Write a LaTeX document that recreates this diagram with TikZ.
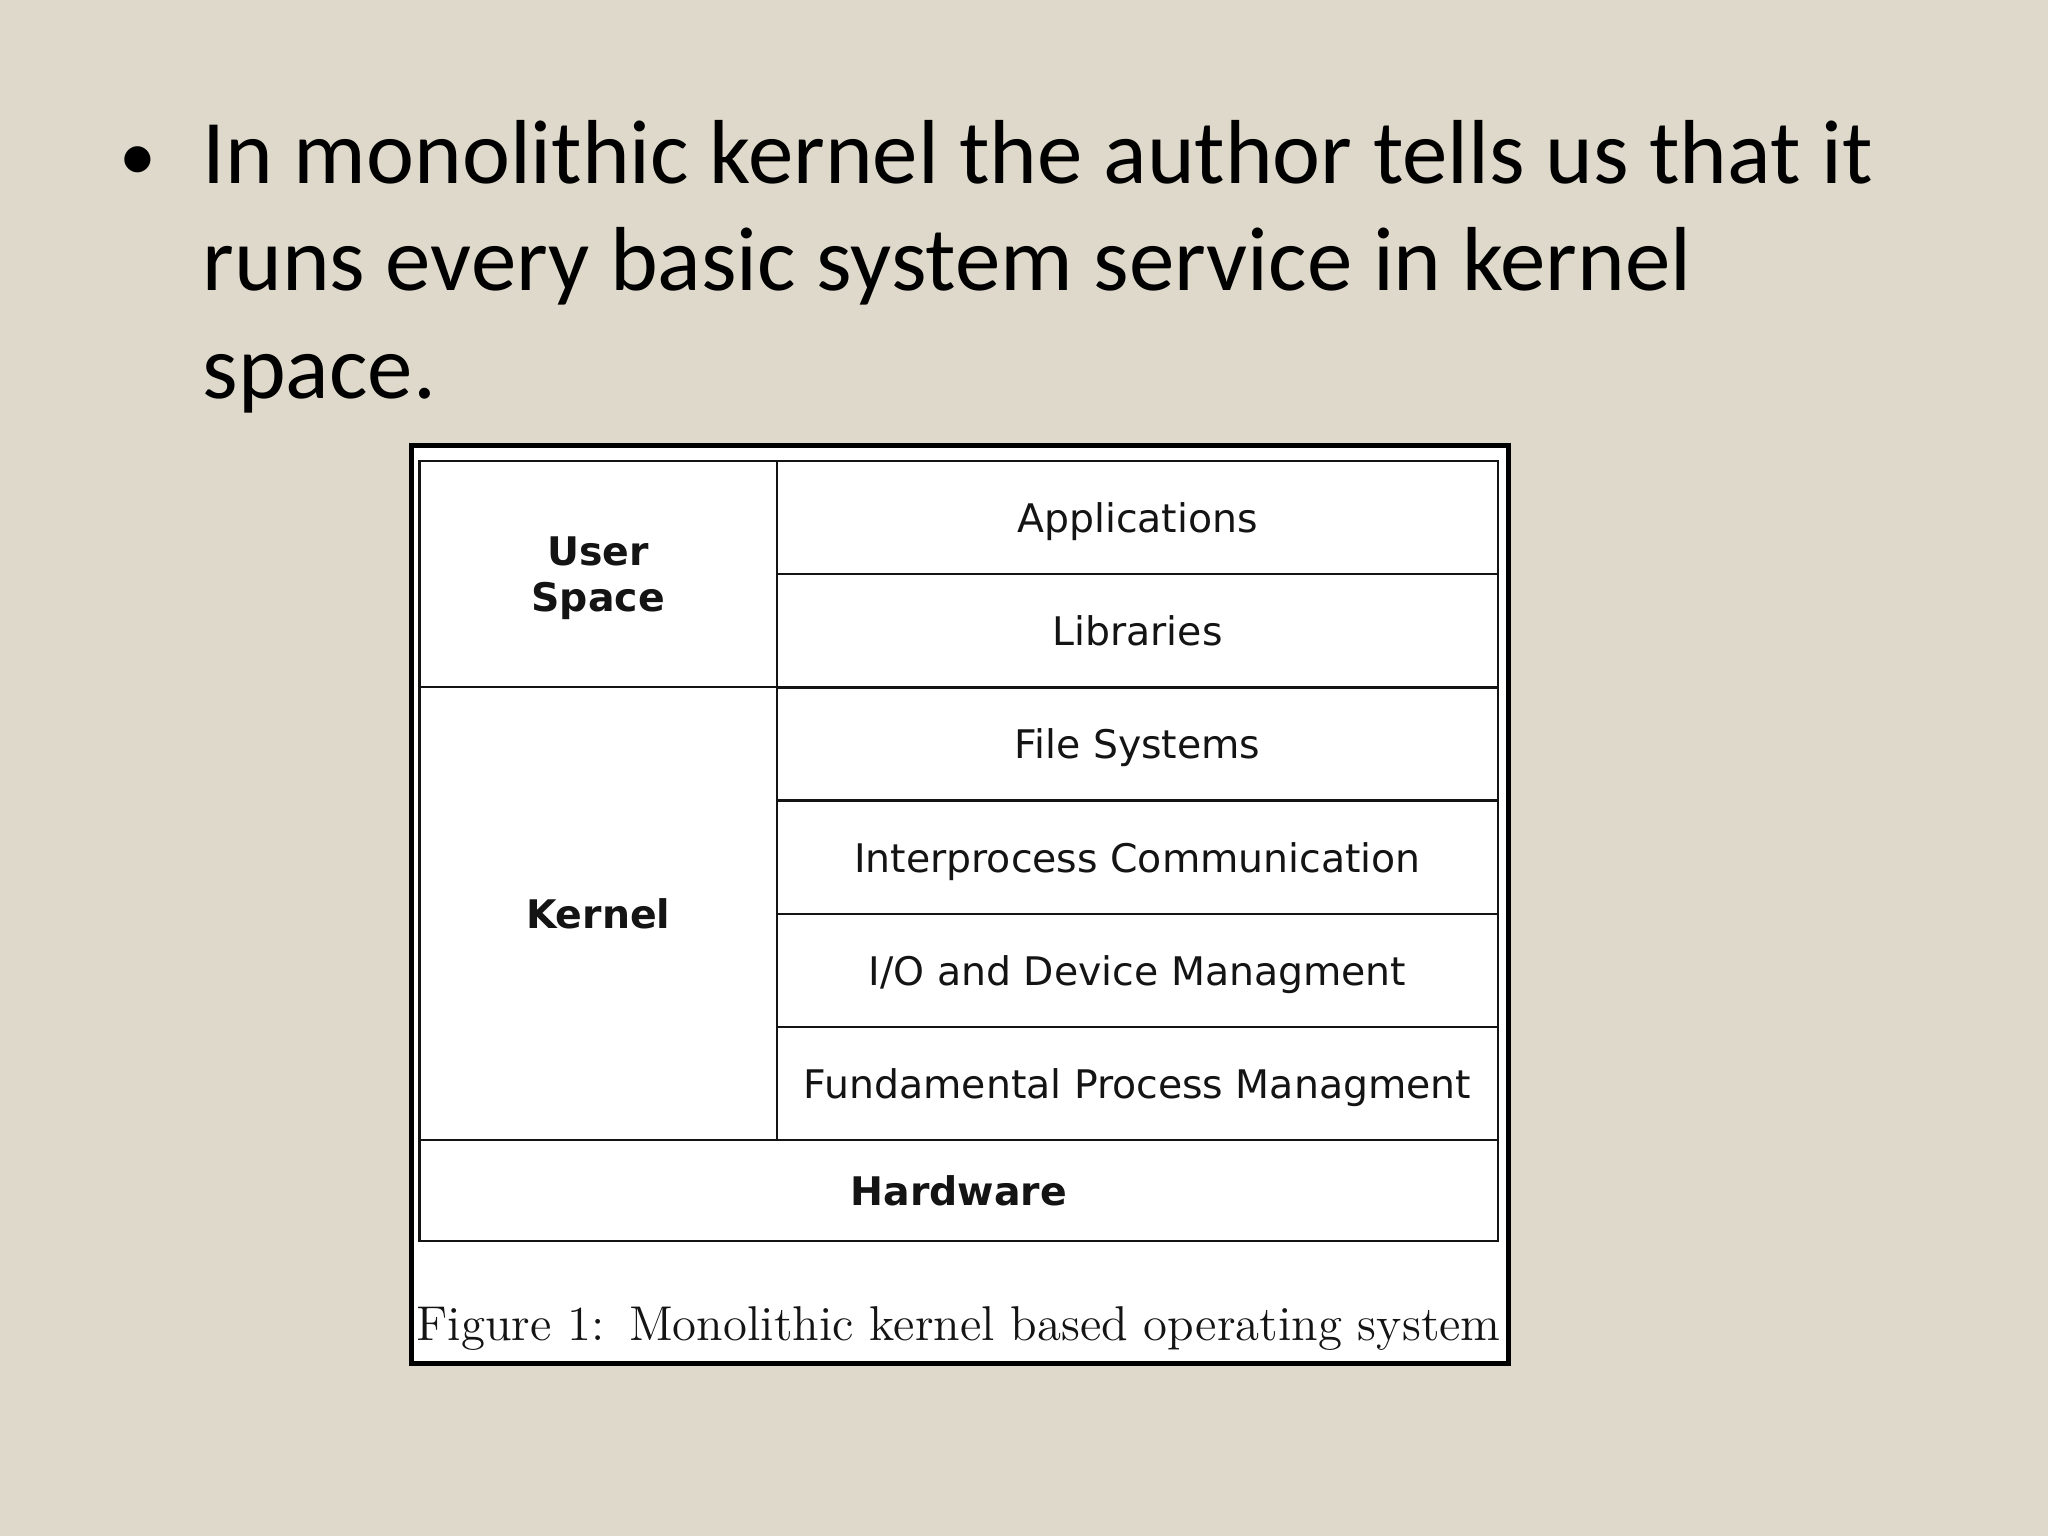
\documentclass[tikz,border=0pt]{standalone}
\usepackage{fontspec}
\setmainfont{Carlito}
\newfontfamily\dejavu{DejaVu Sans}
\newfontfamily\lmroman{Latin Modern Roman}
\definecolor{bgbeige}{RGB}{222,217,202}
\definecolor{inkdark}{RGB}{20,20,20}
\begin{document}
\begin{tikzpicture}[x=0.01cm,y=-0.01cm,
  cell/.style={draw=inkdark, line width=0.7pt, fill=white, inner sep=0pt, anchor=center,
    font=\dejavu\fontsize{11.2}{13}\selectfont, text=inkdark, align=center},
  bcell/.style={cell, font=\dejavu\bfseries\fontsize{11.2}{13}\selectfont},
  rcell/.style={cell, minimum width=721*0.01cm, minimum height=113.2*0.01cm,
    text height=11.1pt, text depth=2.6pt},
  bline/.style={anchor=base west, inner sep=0pt, font=\fontsize{25.85}{31}\selectfont}]
\useasboundingbox (0,0) rectangle (2048,1536);
\fill[bgbeige] (0,0) rectangle (2048,1536);
% bullet text
\node[anchor=base, inner sep=0pt, font=\fontsize{21}{25}\selectfont] (bul) at (138,180) {•};
\node[bline] (l1) at (202,183) {In monolithic kernel the author tells us that it};
\node[bline] (l2) at (202,290) {runs every basic system service in kernel};
\node[bline] (l3) at (202,398) {space.};
% outer frame
\node[draw=black, line width=1.5pt, fill=white, inner sep=0pt,
  minimum width=1097.1*0.01cm, minimum height=918.2*0.01cm] (frame) at (960,904.5) {};
% left column
\node[bcell, minimum width=357.7*0.01cm, minimum height=226*0.01cm, text depth=0pt] (usr) at (598.15,574) {User\\Space};
\node[bcell, minimum width=357.7*0.01cm, minimum height=453.2*0.01cm] (kern) at (598.15,913.6) {Kernel};
% right column
\node[rcell] (app) at (1137.5,517.6) {Applications};
\node[rcell] (lib) at (1137.5,630.8) {Libraries};
\node[rcell] (fs)  at (1137.5,744.0) {File Systems};
\node[rcell] (ipc) at (1137.5,857.2) {Interprocess Communication};
\node[rcell] (io)  at (1137.5,970.4) {I/O and Device Managment};
\node[rcell] (fpm) at (1137.5,1083.6) {Fundamental Process Managment};
% hardware
\node[bcell, minimum width=1078.7*0.01cm, minimum height=100.6*0.01cm] (hw) at (958.65,1190.5) {Hardware};
% caption
\node[font=\lmroman\fontsize{13.9}{16}\selectfont, text=inkdark, inner sep=0pt] (cap) at (958.65,1329)
  {Figure 1:\hspace{0.5em}Monolithic kernel based operating system};
\end{tikzpicture}
\end{document}
